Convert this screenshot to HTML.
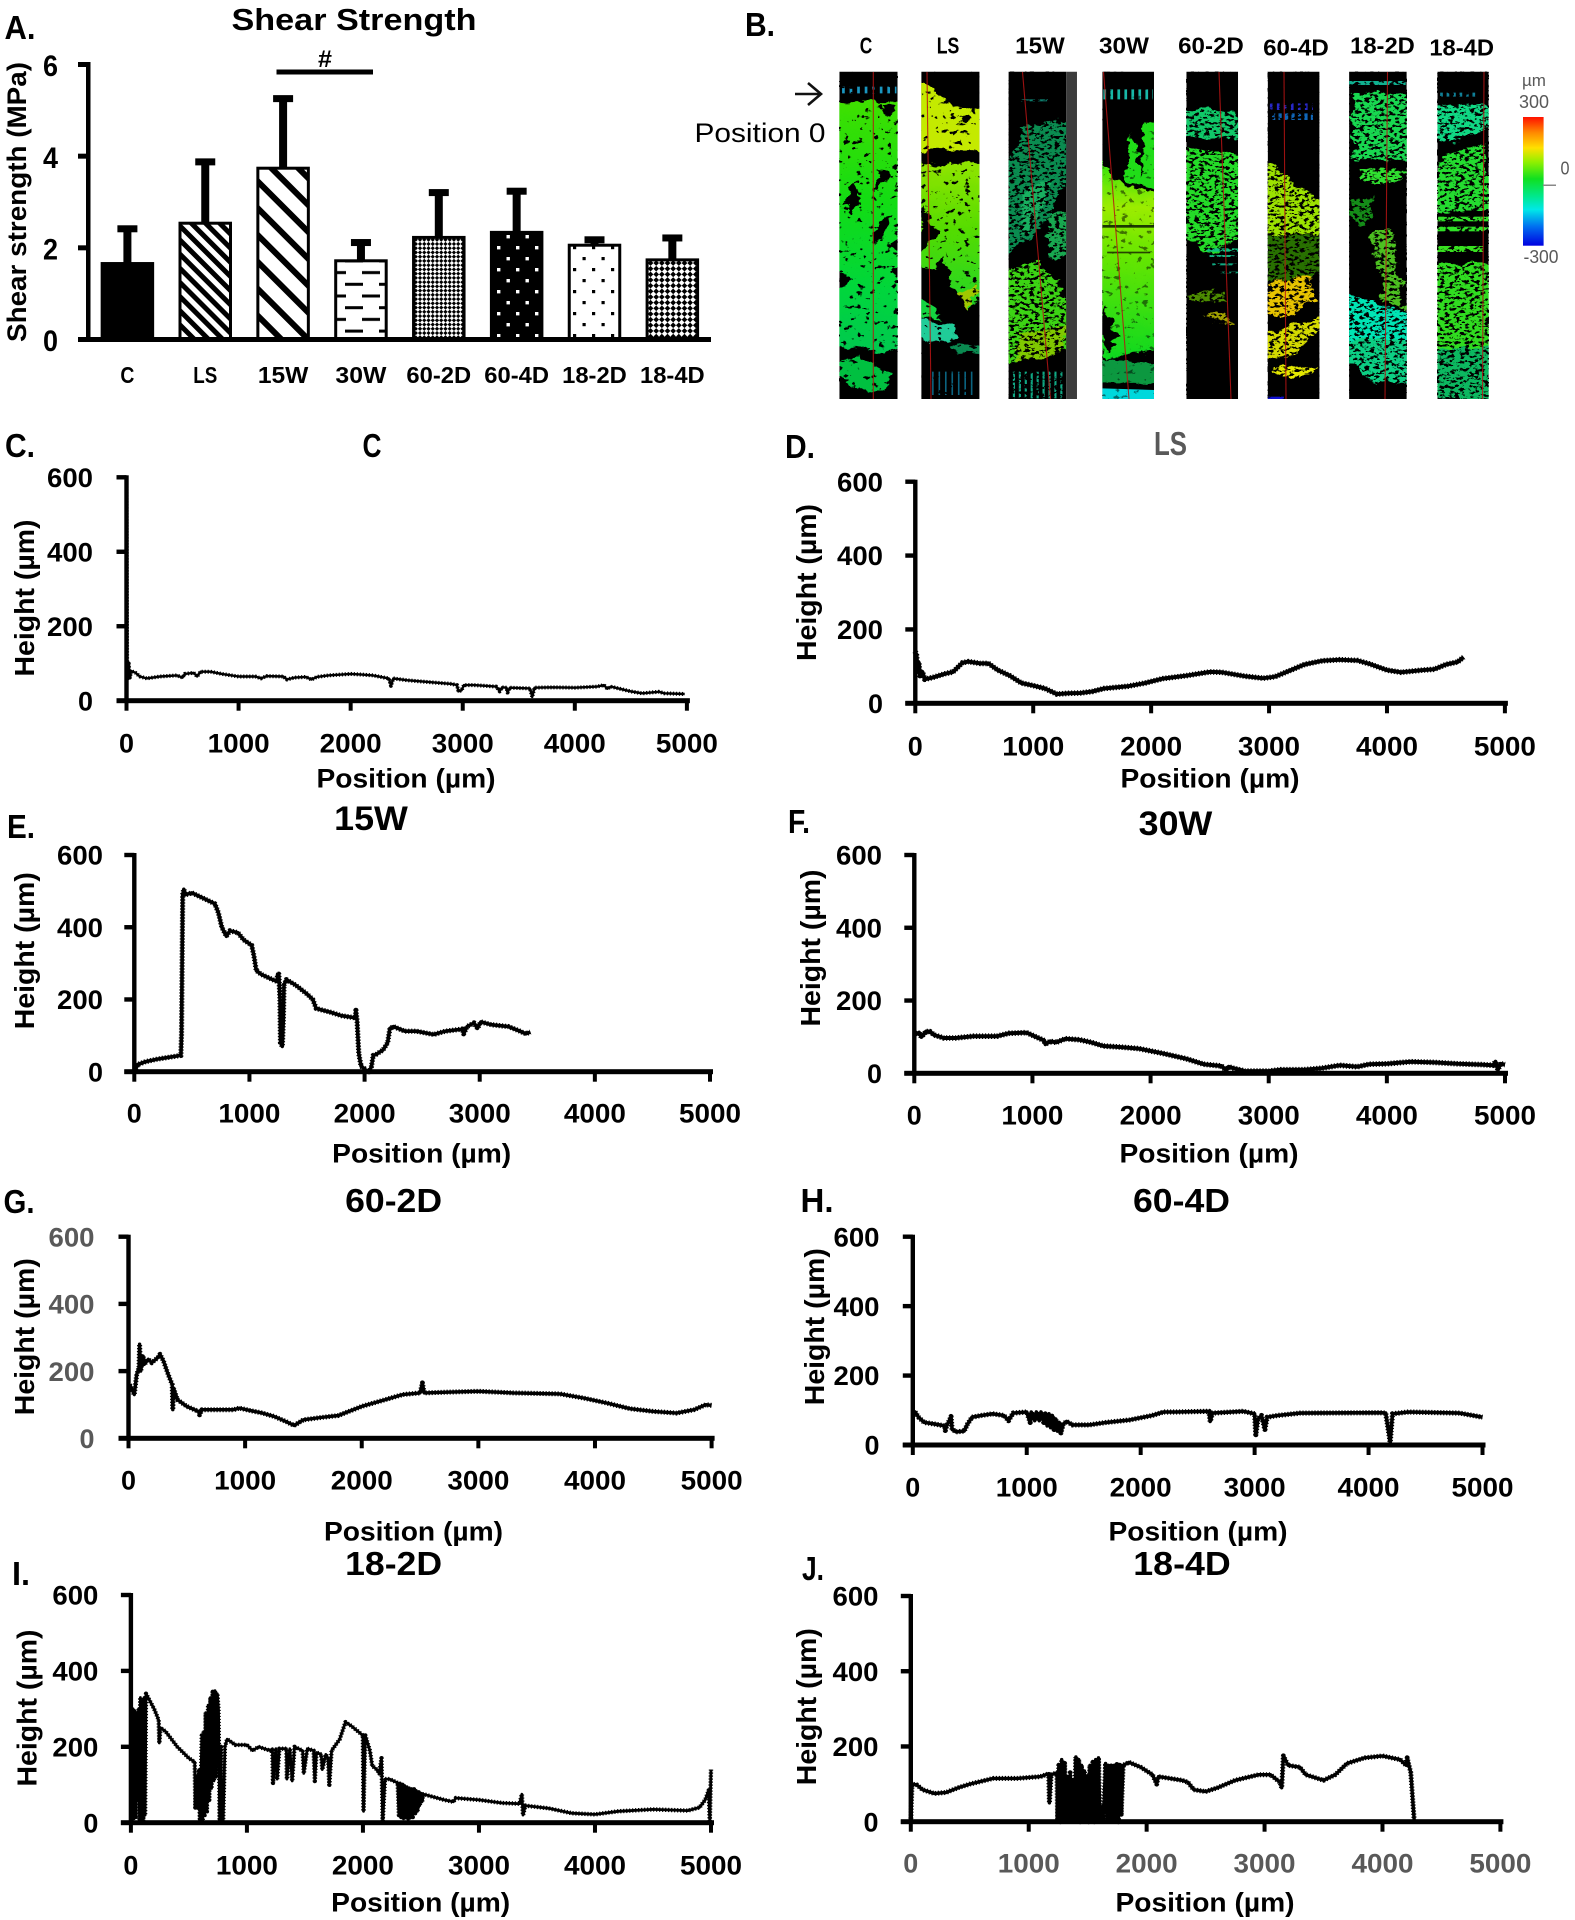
<!DOCTYPE html>
<html lang="en">
<head>
<meta charset="utf-8">
<title>Shear strength and height profiles</title>
<style>
html,body{margin:0;padding:0;background:#fff;width:1575px;height:1920px;overflow:hidden}
svg{display:block}
text{font-family:"Liberation Sans",sans-serif;font-weight:bold;fill:#000;text-anchor:middle}
.reg{font-weight:normal}
.gray{fill:#595959}
</style>
</head>
<body>
<svg id="figure" xmlns="http://www.w3.org/2000/svg" width="1575" height="1920" viewBox="0 0 1575 1920">
<defs>
<pattern id="p-ls" width="10" height="10" patternUnits="userSpaceOnUse" patternTransform="rotate(45)"><rect width="10" height="10" fill="#fff"/><rect width="10" height="5" fill="#000"/></pattern>
<pattern id="p-15w" width="19" height="19" patternUnits="userSpaceOnUse" patternTransform="rotate(45)"><rect width="19" height="19" fill="#fff"/><rect width="19" height="6" fill="#000"/></pattern>
<pattern id="p-30w" width="34" height="23.4" patternUnits="userSpaceOnUse"><rect width="34" height="23.4" fill="#fff"/><rect x="5" y="2" width="18" height="3" fill="#000"/><rect x="-12" y="13.7" width="18" height="3" fill="#000"/><rect x="22" y="13.7" width="18" height="3" fill="#000"/></pattern>
<pattern id="p-602d" width="6" height="6" patternUnits="userSpaceOnUse" patternTransform="rotate(45)"><rect width="6" height="6" fill="#fff"/><rect width="3" height="3" fill="#000"/><rect x="3" y="3" width="3" height="3" fill="#000"/></pattern>
<pattern id="p-604d" width="19" height="22" patternUnits="userSpaceOnUse"><rect width="19" height="22" fill="#000"/><rect x="3" y="4" width="3.4" height="3.4" fill="#fff"/><rect x="12.5" y="15" width="3.4" height="3.4" fill="#fff"/></pattern>
<pattern id="p-182d" width="19" height="22" patternUnits="userSpaceOnUse"><rect width="19" height="22" fill="#fff"/><rect x="3" y="4" width="3.2" height="3.2" fill="#000"/><rect x="12.5" y="15" width="3.2" height="3.2" fill="#000"/></pattern>
<pattern id="p-184d" width="8" height="8" patternUnits="userSpaceOnUse" patternTransform="rotate(45)"><rect width="8" height="8" fill="#fff"/><rect width="4" height="4" fill="#000"/><rect x="4" y="4" width="4" height="4" fill="#000"/></pattern>
<linearGradient id="g-c" x1="0" y1="0" x2="0" y2="1"><stop offset="0" stop-color="#3fe000"/><stop offset=".4" stop-color="#12dc14"/><stop offset=".75" stop-color="#00d63c"/><stop offset="1" stop-color="#00c850"/></linearGradient>
<linearGradient id="g-ls" x1="0" y1="0" x2="0" y2="1"><stop offset="0" stop-color="#90e400"/><stop offset=".45" stop-color="#54dc00"/><stop offset="1" stop-color="#20d428"/></linearGradient>
<linearGradient id="g-30" x1="0" y1="0" x2="0" y2="1"><stop offset="0" stop-color="#1ee010"/><stop offset=".28" stop-color="#9cec00"/><stop offset=".5" stop-color="#68e600"/><stop offset="1" stop-color="#0cd820"/></linearGradient>
<linearGradient id="g-scale" x1="0" y1="0" x2="0" y2="1"><stop offset="0" stop-color="#ff1000"/><stop offset=".12" stop-color="#ff8800"/><stop offset=".24" stop-color="#ffe000"/><stop offset=".35" stop-color="#90f000"/><stop offset=".48" stop-color="#10e020"/><stop offset=".62" stop-color="#00e890"/><stop offset=".72" stop-color="#00e8e8"/><stop offset=".85" stop-color="#0070f0"/><stop offset="1" stop-color="#0000e0"/></linearGradient>
<filter id="speck-sparse" x="0" y="0" width="100%" height="100%" color-interpolation-filters="sRGB"><feTurbulence type="fractalNoise" baseFrequency="0.14 0.2" numOctaves="3" seed="4"/><feColorMatrix values="0 0 0 0 0 0 0 0 0 0 0 0 0 0 0 14 0 0 0 -9.0"/></filter>
<filter id="speck-heavy" x="0" y="0" width="100%" height="100%" color-interpolation-filters="sRGB"><feTurbulence type="fractalNoise" baseFrequency="0.2 0.36" numOctaves="3" seed="9"/><feColorMatrix values="0 0 0 0 0 0 0 0 0 0 0 0 0 0 0 14 0 0 0 -7.4"/></filter>
<filter id="rough" x="-10%" y="-10%" width="120%" height="120%" color-interpolation-filters="sRGB"><feTurbulence type="fractalNoise" baseFrequency="0.035" numOctaves="4" seed="2" result="n"/><feDisplacementMap in="SourceGraphic" in2="n" scale="32" xChannelSelector="R" yChannelSelector="G"/></filter>
<clipPath id="clip-c"><rect x="203" y="215" width="108" height="982"/></clipPath>
<clipPath id="clip-ls"><rect x="355" y="215" width="108" height="982"/></clipPath>
<clipPath id="clip-15w"><rect x="517" y="215" width="127" height="982"/></clipPath>
<clipPath id="clip-30w"><rect x="691" y="215" width="96" height="982"/></clipPath>
<clipPath id="clip-602d"><rect x="847" y="215" width="96" height="982"/></clipPath>
<clipPath id="clip-604d"><rect x="998" y="215" width="96" height="982"/></clipPath>
<clipPath id="clip-182d"><rect x="1149" y="215" width="107" height="982"/></clipPath>
<clipPath id="clip-184d"><rect x="1313" y="215" width="95" height="982"/></clipPath>
</defs>
<rect width="1575" height="1920" fill="#fff"/>

<!-- Panel A -->
<g id="panel-a">
<text x="20" y="39" font-size="33" textLength="31" lengthAdjust="spacingAndGlyphs">A.</text>
<text x="354" y="30" font-size="31" textLength="245" lengthAdjust="spacingAndGlyphs">Shear Strength</text>
<text transform="translate(26,202) rotate(-90)" font-size="27" textLength="280" lengthAdjust="spacingAndGlyphs">Shear strength (MPa)</text>
<rect x="276.5" y="69.5" width="96.5" height="5" fill="#000"/>
<text x="325" y="67" font-size="24" textLength="14" lengthAdjust="spacingAndGlyphs">#</text>
</g>

<!-- Panel B -->
<g id="panel-b">
<text x="760" y="36" font-size="33" textLength="30" lengthAdjust="spacingAndGlyphs">B.</text>
<text x="866" y="53.5" font-size="23" textLength="12.5" lengthAdjust="spacingAndGlyphs">C</text>
<text x="948" y="53.5" font-size="23" textLength="22.6" lengthAdjust="spacingAndGlyphs">LS</text>
<text x="1040" y="53.5" font-size="23" textLength="49.6" lengthAdjust="spacingAndGlyphs">15W</text>
<text x="1124" y="53.5" font-size="23" textLength="50" lengthAdjust="spacingAndGlyphs">30W</text>
<text x="1211" y="53.5" font-size="23" textLength="65.7" lengthAdjust="spacingAndGlyphs">60-2D</text>
<text x="1296" y="55.5" font-size="23" textLength="65.7" lengthAdjust="spacingAndGlyphs">60-4D</text>
<text x="1382.5" y="53.5" font-size="23" textLength="64.7" lengthAdjust="spacingAndGlyphs">18-2D</text>
<text x="1461.7" y="55.5" font-size="23" textLength="64.7" lengthAdjust="spacingAndGlyphs">18-4D</text>
<g fill="none" stroke="#111" stroke-width="2.6"><line x1="795" y1="94" x2="820" y2="94"/><polyline points="808,83 821,94 808,105"/></g>
<text class="reg" x="760" y="142" font-size="27" textLength="131" lengthAdjust="spacingAndGlyphs" fill="#222">Position 0</text>

<g transform="translate(730,0) scale(0.5388,0.33333)">
<g clip-path="url(#clip-c)">
<rect x="203" y="215" width="108" height="982" fill="#000"/>
<line x1="208" y1="270" x2="309" y2="270" stroke="#1a96c0" stroke-width="20" stroke-dasharray="5 9"/>
<g filter="url(#rough)">
<polygon fill="url(#g-c)" points="190,305 325,305 325,700 295,730 325,780 300,810 325,860 325,1030 285,1060 240,1045 190,1040 190,880 230,850 190,780"/>
<polygon fill="#000" points="285,315 305,320 298,350 285,340"/>
<polygon fill="#000" points="222,560 240,540 235,600 225,640 216,630"/>
<polygon fill="#000" points="272,510 300,512 285,550 275,575"/>
<polygon fill="#000" points="275,660 300,650 288,710 268,730"/>
<polygon fill="#00c040" points="205,1080 240,1070 300,1120 290,1170 250,1175 205,1130"/>
</g>
</g>
<g clip-path="url(#clip-ls)">
<rect x="355" y="215" width="108" height="982" fill="#000"/>
<g filter="url(#rough)">
<polygon fill="#c4ea00" points="340,240 375,262 410,320 440,328 480,320 480,452 340,452"/>
<polygon fill="#000" points="422,348 442,350 440,374 425,372"/>
<polygon fill="url(#g-ls)" points="340,490 480,490 480,820 450,930 420,870 395,770 375,810 340,780"/>
<polygon fill="#000" points="360,620 385,700 345,770"/>
<polygon fill="#a0c800" points="420,880 460,850 450,930"/>
<polygon fill="#14d440" points="345,880 380,920 395,960 345,950"/>
<polygon fill="#20cc98" points="345,950 415,980 415,1020 370,1030 345,1010"/>
<polygon fill="#0a8a50" points="420,1030 470,1040 470,1060 420,1060"/>
</g>
<line x1="375" y1="1150" x2="450" y2="1150" stroke="#0e7ca0" stroke-width="70" stroke-dasharray="3 9" opacity=".8"/>
</g>
<g clip-path="url(#clip-15w)">
<rect x="517" y="215" width="107" height="982" fill="#000"/>
<g filter="url(#rough)">
<polygon fill="#0a8c50" points="545,380 630,360 630,530 590,660 510,780 510,520"/>
<polygon fill="#18b060" points="545,560 590,550 570,660 540,700"/>
<polygon fill="#18a850" points="595,640 630,640 630,760 590,780"/>
<polygon fill="#3cd414" points="505,820 570,775 630,900 630,1050 505,1095"/>
<polygon fill="#80c800" points="540,1000 630,980 620,1060 530,1085"/>
</g>
<line x1="525" y1="1155" x2="620" y2="1155" stroke="#10a884" stroke-width="80" stroke-dasharray="4 7"/>
<rect x="540" y="298" width="50" height="6" fill="#0e8070"/>
<rect x="624" y="215" width="20" height="982" fill="#3c3c3c"/>
</g>
<g clip-path="url(#clip-30w)">
<rect x="691" y="215" width="96" height="982" fill="#000"/>
<line x1="693" y1="283" x2="785" y2="283" stroke="#18b8a8" stroke-width="30" stroke-dasharray="5 8"/>
<g filter="url(#rough)">
<polygon fill="url(#g-30)" points="680,445 715,540 750,565 800,575 800,1050 740,1060 700,1080 680,1040"/>
<polygon fill="#20dc18" points="770,368 800,360 800,570 752,555 732,540 745,400 752,420 762,540"/>
<polygon fill="#000" points="696,920 720,1010 700,1060 685,1000"/>
<polygon fill="#0c9840" points="680,1080 800,1090 800,1150 680,1150"/>
</g>
<rect x="691" y="675" width="96" height="8" fill="#1a3800"/>
<rect x="700" y="755" width="80" height="5" fill="#264400"/>
<polygon fill="#00d8dc" points="691,1165 787,1170 787,1197 691,1197"/>
</g>
<g clip-path="url(#clip-602d)">
<rect x="847" y="215" width="96" height="982" fill="#000"/>
<g filter="url(#rough)">
<polygon fill="#10c868" points="840,332 900,325 950,350 950,420 840,415"/>
<polygon fill="#24dc28" points="840,445 950,460 950,720 880,760 840,700"/>
<polygon fill="#4c8c00" points="855,880 920,875 920,905 855,905"/>
<polygon fill="#a0a000" points="870,945 920,935 932,975 900,965"/>
</g>
<rect x="885" y="745" width="58" height="10" fill="#10c080"/>
<rect x="890" y="765" width="50" height="6" fill="#10b080"/>
<rect x="895" y="790" width="45" height="6" fill="#10a880"/>
<rect x="910" y="815" width="33" height="5" fill="#0e9a70"/>
</g>
<g clip-path="url(#clip-604d)">
<rect x="998" y="215" width="96" height="982" fill="#000"/>
<line x1="1002" y1="320" x2="1082" y2="320" stroke="#2828c8" stroke-width="20" stroke-dasharray="5 8"/>
<line x1="1006" y1="350" x2="1082" y2="350" stroke="#1066b8" stroke-width="20" stroke-dasharray="6 6"/>
<g filter="url(#rough)">
<polygon fill="#9ce200" points="990,478 1100,610 1100,700 990,700"/>
<polygon fill="#287000" points="990,700 1100,705 1100,820 1000,850"/>
<polygon fill="#e8c400" points="1000,855 1075,820 1085,900 1040,950 990,940"/>
<polygon fill="#d4da00" points="990,995 1100,950 1100,985 1050,1060 990,1080"/>
<polygon fill="#e4e800" points="1005,1098 1100,1105 1060,1128 1010,1122"/>
</g>
<rect x="998" y="1190" width="30" height="7" fill="#1010d0"/>
</g>
<g clip-path="url(#clip-182d)">
<rect x="1149" y="215" width="107" height="982" fill="#000"/>
<rect x="1149" y="243" width="105" height="12" fill="#10b090"/>
<g filter="url(#rough)">
<polygon fill="#18d850" points="1155,275 1262,285 1262,482 1155,478"/>
<polygon fill="#30e030" points="1170,505 1262,510 1240,548 1170,545"/>
<polygon fill="#148c18" points="1155,600 1195,590 1180,680 1155,660"/>
<polygon fill="#4cc020" points="1190,690 1228,690 1256,930 1210,900"/>
<polygon fill="#00e4b4" points="1140,880 1215,920 1265,940 1265,1020 1140,1020"/>
<polygon fill="#0cd084" points="1140,1020 1265,1020 1265,1150 1200,1150 1140,1080"/>
</g>
</g>
<g clip-path="url(#clip-184d)">
<rect x="1313" y="215" width="95" height="982" fill="#000"/>
<line x1="1318" y1="284" x2="1388" y2="284" stroke="#108098" stroke-width="12" stroke-dasharray="5 7"/>
<g filter="url(#rough)">
<polygon fill="#10d884" points="1305,320 1415,310 1415,380 1340,430 1305,420"/>
<polygon fill="#24dc30" points="1318,470 1400,430 1415,630 1305,640"/>
<polygon fill="#30dc20" points="1305,790 1415,790 1415,1050 1305,1050"/>
<polygon fill="#0cb860" points="1305,1050 1415,1040 1415,1197 1305,1197"/>
</g>
<rect x="1313" y="650" width="95" height="14" fill="#30e028"/>
<rect x="1313" y="680" width="95" height="14" fill="#30e028"/>
<rect x="1313" y="738" width="85" height="18" fill="#38e020"/>
</g>
</g>

<rect x="839.4" y="71.7" width="58.2" height="327.3" filter="url(#speck-sparse)"/>
<rect x="921.3" y="71.7" width="58.2" height="327.3" filter="url(#speck-sparse)"/>
<rect x="1008.6" y="71.7" width="57.4" height="327.3" filter="url(#speck-heavy)"/>
<rect x="1102.3" y="71.7" width="51.7" height="327.3" filter="url(#speck-sparse)" opacity=".5"/>
<rect x="1186.4" y="71.7" width="51.6" height="327.3" filter="url(#speck-heavy)"/>
<rect x="1267.7" y="71.7" width="51.7" height="327.3" filter="url(#speck-heavy)"/>
<rect x="1349" y="71.7" width="57.7" height="327.3" filter="url(#speck-heavy)"/>
<rect x="1437.4" y="71.7" width="51.2" height="327.3" filter="url(#speck-heavy)"/>

<g stroke="#b81414" stroke-width="1.1" fill="none" opacity=".85">
<line x1="873.3" y1="72" x2="873.3" y2="399"/>
<line x1="927" y1="72" x2="931" y2="399"/>
<line x1="1022.5" y1="72" x2="1050.5" y2="399"/>
<line x1="1103.5" y1="72" x2="1129" y2="399"/>
<line x1="1219" y1="72" x2="1231" y2="399"/>
<line x1="1284" y1="72" x2="1286" y2="399"/>
<line x1="1387.5" y1="72" x2="1385" y2="399"/>
<line x1="1484" y1="72" x2="1482.5" y2="399"/>
</g>
<g>
<rect x="1523" y="117" width="20.6" height="128.7" fill="url(#g-scale)"/>
<rect x="1543" y="184.5" width="13" height="1.5" fill="#888"/>
<text class="reg gray" x="1534" y="86" font-size="17" textLength="24" lengthAdjust="spacingAndGlyphs">µm</text>
<text class="reg gray" x="1534" y="108" font-size="18" textLength="30" lengthAdjust="spacingAndGlyphs">300</text>
<text class="reg gray" x="1565" y="174.5" font-size="18" textLength="9" lengthAdjust="spacingAndGlyphs">0</text>
<text class="reg gray" x="1541" y="263" font-size="18" textLength="35" lengthAdjust="spacingAndGlyphs">-300</text>
</g>
</g>

<!-- Profile panels -->
<g id="panel-c">
<text x="20" y="457" font-size="33" textLength="30" lengthAdjust="spacingAndGlyphs">C.</text>
<text x="372" y="457" font-size="33" textLength="19" lengthAdjust="spacingAndGlyphs">C</text>
</g>
<g id="panel-d">
<text x="800" y="458" font-size="33" textLength="30" lengthAdjust="spacingAndGlyphs">D.</text>
<text class="gray" x="1170.5" y="455" font-size="33" textLength="33" lengthAdjust="spacingAndGlyphs">LS</text>
</g>
<g id="panel-e">
<text x="21" y="838" font-size="33" textLength="28" lengthAdjust="spacingAndGlyphs">E.</text>
<text x="371" y="830" font-size="34" textLength="73.7" lengthAdjust="spacingAndGlyphs">15W</text>
</g>
<g id="panel-f">
<text x="799" y="833" font-size="33" textLength="22" lengthAdjust="spacingAndGlyphs">F.</text>
<text x="1175.5" y="835" font-size="34" textLength="73.6" lengthAdjust="spacingAndGlyphs">30W</text>
</g>
<g id="panel-g">
<text x="19" y="1213" font-size="33" textLength="31" lengthAdjust="spacingAndGlyphs">G.</text>
<text x="393.6" y="1212" font-size="33" textLength="97" lengthAdjust="spacingAndGlyphs">60-2D</text>
</g>
<g id="panel-h">
<text x="817" y="1212" font-size="33" textLength="33" lengthAdjust="spacingAndGlyphs">H.</text>
<text x="1181.5" y="1212" font-size="33" textLength="97" lengthAdjust="spacingAndGlyphs">60-4D</text>
</g>
<g id="panel-i">
<text x="21" y="1585" font-size="33" textLength="18" lengthAdjust="spacingAndGlyphs">I.</text>
<text x="393.6" y="1575" font-size="33" textLength="97" lengthAdjust="spacingAndGlyphs">18-2D</text>
</g>
<g id="panel-j">
<text x="813" y="1580" font-size="33" textLength="22" lengthAdjust="spacingAndGlyphs">J.</text>
<text x="1182" y="1575" font-size="33" textLength="97.5" lengthAdjust="spacingAndGlyphs">18-4D</text>
</g>
</svg>

<script>
// ---- Panel A data ----
const shearCategories = ['C','LS','15W','30W','60-2D','60-4D','18-2D','18-4D'];
const shearMeans = [1.69,2.57,3.77,1.75,2.26,2.37,2.09,1.77];
const shearErrors = [0.78,1.36,1.54,0.42,1.00,0.92,0.14,0.50];
const shearTicks = [0,2,4,6];

// ---- Profile data (position in µm, height in µm) ----
const positionTicks = [0,1000,2000,3000,4000,5000];
const heightTicks = [0,200,400,600];

const posC = [0,5,10,20,30,40,80,120,180,300,450,500,520,600,630,660,750,850,1000,1150,1200,1250,1400,1430,1500,1600,1650,1700,1800,2000,2100,2200,2300,2340,2360,2380,2500,2700,2900,2950,2960,2990,3010,3100,3300,3330,3350,3390,3400,3420,3600,3620,3640,3800,4000,4200,4260,4290,4320,4500,4600,4750,4800,4980];
const heightC = [600,110,60,100,60,80,75,65,60,65,68,62,72,75,65,78,78,72,65,65,60,66,65,57,62,64,57,64,68,72,70,68,62,60,40,60,55,50,45,42,25,28,42,42,38,25,36,35,22,35,33,10,35,36,35,38,42,32,38,25,20,24,20,18];

const posD = [0,10,20,30,40,60,80,150,250,320,400,450,550,620,700,800,900,1000,1100,1200,1300,1400,1500,1600,1800,1950,2100,2300,2500,2600,2800,2950,3050,3150,3300,3450,3600,3750,3850,4000,4120,4300,4400,4500,4600,4650];
const heightD = [140,130,90,110,75,85,65,70,80,85,110,113,108,108,90,75,55,48,40,25,27,28,32,40,46,55,67,75,85,84,73,68,72,85,105,115,118,116,107,90,84,90,92,105,112,125];

const posE = [0,30,100,200,300,405,410,415,420,430,445,500,600,700,730,760,800,830,900,950,1020,1040,1060,1100,1200,1240,1245,1255,1265,1270,1285,1295,1300,1320,1400,1500,1550,1580,1700,1800,1900,1920,1925,1935,1950,1970,2000,2020,2040,2060,2075,2100,2160,2200,2220,2250,2350,2450,2600,2700,2850,2860,2890,2950,2980,3010,3100,3250,3350,3400,3440];
const heightE = [0,20,28,35,40,45,100,300,490,505,490,495,480,465,440,400,375,390,385,365,350,320,280,270,255,250,270,270,200,80,70,150,240,255,240,215,200,175,165,155,150,150,170,140,50,15,8,0,0,15,45,48,60,80,120,125,112,112,103,112,118,105,125,135,120,138,130,125,112,105,110];

const posF = [0,40,60,100,130,170,250,350,500,700,800,950,1030,1100,1110,1150,1200,1280,1400,1500,1600,1750,1900,2100,2300,2450,2600,2640,2660,2700,2800,3000,3100,3300,3450,3600,3750,3850,4000,4200,4400,4600,4800,4900,4920,4940,4960,5000];
const heightF = [105,112,100,115,115,105,97,97,102,102,110,112,100,90,80,88,85,95,92,85,75,72,68,55,40,25,20,8,18,14,6,6,10,10,14,22,18,25,26,32,30,26,24,22,32,10,26,24];

const posG = [10,30,50,70,90,95,105,125,135,170,200,250,270,300,340,375,380,385,420,500,600,610,630,800,900,950,1050,1150,1250,1350,1420,1500,1650,1800,2000,2200,2350,2500,2520,2535,2800,3000,3300,3700,3900,4100,4300,4500,4700,4850,4950,5000];
const heightG = [160,145,130,190,210,280,200,245,220,235,225,240,250,230,190,160,85,150,115,95,80,70,85,85,85,90,82,75,65,50,38,55,62,68,95,115,130,135,165,135,138,140,135,132,120,105,88,80,75,85,100,98];

const posH = [0,20,50,100,200,280,285,300,320,335,345,380,450,480,520,600,700,800,840,880,1000,1030,1040,1070,1085,1110,1125,1150,1165,1180,1195,1210,1225,1240,1255,1270,1285,1300,1320,1350,1400,1550,1700,1900,2100,2200,2300,2600,2610,2630,2900,3000,3010,3030,3060,3090,3110,3200,3400,4100,4150,4190,4210,4350,4800,5000];
const heightH = [90,95,80,65,60,55,42,58,70,82,45,38,40,60,80,85,90,85,70,92,95,65,95,70,95,70,95,65,92,55,90,50,85,45,75,40,65,35,60,68,58,58,65,72,85,95,95,97,68,92,97,90,30,75,85,45,80,85,92,93,92,8,90,95,92,80];

const posI = [10,18,26,34,42,50,58,66,74,82,90,98,106,114,122,130,
  200,240,245,255,300,400,500,550,555,565,575,585,595,603,611,619,627,635,
  645,655,665,675,685,695,705,715,725,735,745,755,765,775,785,795,
  810,830,900,1000,1050,1100,1200,1220,1225,1250,1260,1280,1340,1345,1370,1390,1410,1480,1490,1520,1575,1585,1600,1640,1650,1680,1700,1710,1730,1800,1850,1900,2000,2005,2020,2060,2080,2120,2140,2160,2170,2190,2230,2300,
  2310,2320,2330,2340,2350,2360,2370,2380,2390,2400,2410,2420,2430,2440,2450,2460,2470,2480,2490,2500,2510,2520,
  2700,2780,2800,3000,3200,3350,3370,3380,3400,3600,3800,4000,4200,4500,4800,4900,4950,4980,4990,5000];
const heightI = [0,300,10,295,15,290,60,300,10,330,5,320,5,330,20,340,
  300,270,210,250,240,200,170,160,40,120,40,140,10,100,230,5,240,20,
  290,30,310,60,330,90,345,110,348,120,340,300,10,200,5,0,
  200,220,205,205,190,200,190,195,105,195,115,195,195,115,195,110,200,190,130,195,190,110,185,180,140,180,170,100,190,220,265,255,230,30,230,190,150,140,130,170,5,115,115,105,
  20,105,15,100,10,98,12,95,8,92,12,90,15,88,25,85,30,80,45,78,55,75,
  60,55,65,60,52,50,75,20,45,38,25,22,30,35,32,40,60,85,5,140];

const posJ = [0,10,50,100,200,300,400,500,700,900,1100,1170,1175,1190,1240,1245,1255,1268,1280,1292,1304,1316,1328,1340,1352,1364,1376,1388,1400,1412,1424,1436,1448,1460,1472,1484,1496,1508,1520,1532,1544,1556,1568,1580,1592,1604,1616,1628,1640,1652,1664,1676,1688,1700,1712,1724,1736,1748,1760,1772,1784,1800,1850,1950,2050,2085,2100,2300,2350,2400,2500,2600,2750,2950,3050,3130,3145,3160,3200,3300,3350,3500,3600,3700,3850,4000,4150,4200,4210,4240,4270];
const heightJ = [0,100,98,85,75,78,90,100,115,115,120,128,50,125,130,0,150,0,165,10,155,0,120,0,130,5,110,0,172,5,165,0,150,0,135,10,120,0,150,5,158,0,165,0,170,10,40,5,60,155,5,150,0,148,0,150,5,152,0,150,20,150,158,145,125,100,120,110,105,85,80,90,110,125,125,105,90,175,150,145,125,110,125,155,170,175,165,150,170,130,0];

// ---- Helpers ----
const NS = 'http://www.w3.org/2000/svg';
function makeEl(tag, parent) {
  const el = document.createElementNS(NS, tag);
  parent.appendChild(el);
  return el;
}
function makeRect(parent, x, y, w, h, fill) {
  const r = makeEl('rect', parent);
  r.setAttribute('x', x);
  r.setAttribute('y', y);
  r.setAttribute('width', w);
  r.setAttribute('height', h);
  r.setAttribute('fill', fill);
  return r;
}
function makeText(parent, str, cx, cy, size, width, cls) {
  const t = makeEl('text', parent);
  t.textContent = str;
  t.setAttribute('x', cx);
  t.setAttribute('y', cy + size * 0.358);
  t.setAttribute('font-size', size);
  t.setAttribute('textLength', width);
  t.setAttribute('lengthAdjust', 'spacingAndGlyphs');
  if (cls) t.setAttribute('class', cls);
  return t;
}

// ---- Panel A: bars ----
(function drawShear() {
  const g = document.getElementById('panel-a');
  const y0 = 339.5, y6 = 64.5;
  const yScale = function (v) { return y0 - v / 6 * (y0 - y6); };
  const xScale = function (i) { return 127.4 + 77.85 * i; };
  const barW = 50.5;
  const fills = ['#000','url(#p-ls)','url(#p-15w)','url(#p-30w)','url(#p-602d)','url(#p-604d)','url(#p-182d)','url(#p-184d)'];
  const labelWidths = [14,24,50.5,51,64.7,64.7,64.7,64.7];

  shearCategories.forEach(function (cat, i) {
    const cx = xScale(i);
    const top = yScale(shearMeans[i]);
    const errTop = yScale(shearMeans[i] + shearErrors[i]);

    const stem = makeRect(g, cx - 4, errTop, 8, top - errTop + 3, '#000');
    
    

    const cap = makeRect(g, cx - 10, errTop - 1, 20, 7, '#000');
    
    

    const bar = makeRect(g, cx - barW / 2, top + 1.5, barW, y0 - top - 1.5, fills[i]);
    bar.setAttribute('stroke', '#000');
    bar.setAttribute('stroke-width', '3');
    
    

    const label = makeText(g, cat, cx, 375, 23, labelWidths[i]);
    
    
  });

  const yAxis = makeRect(g, 86, y6 - 2.5, 4.5, y0 - y6 + 4, '#000');
  
  

  const xAxis = makeRect(g, 78, y0 - 2.5, 633, 5, '#000');
  
  

  shearTicks.forEach(function (v) {
    const tick = makeRect(g, 78, yScale(v) - 2.5, 10, 5, '#000');
    
    

    const label = makeText(g, String(v), 50.5, yScale(v) + 1, 30, 15);
    
    
  });
})();

// ---- Profile panels ----
function drawProfile(id, positions, heights, geo) {
  const g = document.getElementById(id);
  const xScale = function (p) { return geo.x0 + p / 5000 * (geo.x5 - geo.x0); };
  const yScale = function (h) { return geo.y0 - h / 600 * (geo.y0 - geo.y6); };
  const pointList = positions.map(function (p, i) {
    return xScale(p).toFixed(1) + ',' + yScale(heights[i]).toFixed(1);
  }).join(' ');

  const line = makeEl('polyline', g);
  line.setAttribute('points', pointList);
  line.setAttribute('fill', 'none');
  line.setAttribute('stroke', '#000');
  line.setAttribute('stroke-width', geo.lw);
  line.setAttribute('stroke-linejoin', 'round');
  
  

  const fuzz = makeEl('polyline', g);
  fuzz.setAttribute('points', pointList);
  fuzz.setAttribute('fill', 'none');
  fuzz.setAttribute('stroke', '#000');
  fuzz.setAttribute('stroke-width', geo.lw + 1.6);
  fuzz.setAttribute('stroke-dasharray', '1.2 1.8');
  fuzz.setAttribute('stroke-linejoin', 'round');
  
  

  const yAxis = makeRect(g, geo.x0 - 2.2, geo.y6 - 2, 4.4, geo.y0 - geo.y6 + 4, '#000');
  
  

  const xAxis = makeRect(g, geo.x0 - 10, geo.y0 - 2.5, geo.x5 - geo.x0 + 13, 5, '#000');
  
  

  heightTicks.forEach(function (v) {
    const tick = makeRect(g, geo.x0 - 10, yScale(v) - 2.2, 10, 4.4, '#000');
    
    

    const s = String(v);
    const w = s.length === 1 ? 15 : 46;
    const label = makeText(g, s, geo.yLabelRight - w / 2, yScale(v), 27, w, geo.yGray ? 'gray' : '');
    
    
  });

  positionTicks.forEach(function (v) {
    const tick = makeRect(g, xScale(v) - 2, geo.y0, 4, 10, '#000');
    
    

    const s = String(v);
    const w = s.length === 1 ? 15 : 62;
    const label = makeText(g, s, xScale(v), geo.xLabelY, 27, w, geo.xGray ? 'gray' : '');
    
    
  });

  const xTitle = makeText(g, 'Position (µm)', geo.xTitleX, geo.xTitleY, 27, 179);
  
  

  const yTitle = makeEl('text', g);
  yTitle.textContent = 'Height (µm)';
  yTitle.setAttribute('transform', 'translate(' + (geo.yTitleX + 10) + ',' + geo.yTitleY + ') rotate(-90)');
  yTitle.setAttribute('font-size', 28);
  yTitle.setAttribute('textLength', 157);
  yTitle.setAttribute('lengthAdjust', 'spacingAndGlyphs');
  
  
}

drawProfile('panel-c', posC, heightC, {x0:126.5,x5:686.9,y0:700.7,y6:477.3,lw:2.4,yLabelRight:93,xLabelY:743,xTitleX:406,xTitleY:778,yTitleX:24,yTitleY:598});
drawProfile('panel-d', posD, heightD, {x0:915.3,x5:1504.9,y0:703.3,y6:481.7,lw:4,yLabelRight:883,xLabelY:746,xTitleX:1210,xTitleY:778,yTitleX:806,yTitleY:582.5});
drawProfile('panel-e', posE, heightE, {x0:134.3,x5:710,y0:1071.7,y6:855,lw:3.6,yLabelRight:103,xLabelY:1113,xTitleX:421.7,xTitleY:1153,yTitleX:24,yTitleY:950.7});
drawProfile('panel-f', posF, heightF, {x0:914.3,x5:1505,y0:1073.3,y6:855,lw:4,yLabelRight:882,xLabelY:1115,xTitleX:1209,xTitleY:1153,yTitleX:810,yTitleY:948});
drawProfile('panel-g', posG, heightG, {x0:128.5,x5:711.6,y0:1438.3,y6:1236.7,lw:3.4,yLabelRight:94.5,xLabelY:1480,xTitleX:413.5,xTitleY:1530.7,yTitleX:24,yTitleY:1336.7,yGray:true});
drawProfile('panel-h', posH, heightH, {x0:912.8,x5:1482.5,y0:1445,y6:1236.7,lw:3.6,yLabelRight:879.5,xLabelY:1486.7,xTitleX:1198,xTitleY:1530.7,yTitleX:814,yTitleY:1326.7});
drawProfile('panel-i', posI, heightI, {x0:130.9,x5:711,y0:1822.7,y6:1595,lw:2.8,yLabelRight:98.4,xLabelY:1865,xTitleX:420.7,xTitleY:1901.7,yTitleX:26.7,yTitleY:1708});
drawProfile('panel-j', posJ, heightJ, {x0:910.8,x5:1500.4,y0:1821.7,y6:1596,lw:3.4,yLabelRight:878.5,xLabelY:1862.7,xTitleX:1205,xTitleY:1901.7,yTitleX:806,yTitleY:1706.7,xGray:true});
</script>
</body>
</html>
